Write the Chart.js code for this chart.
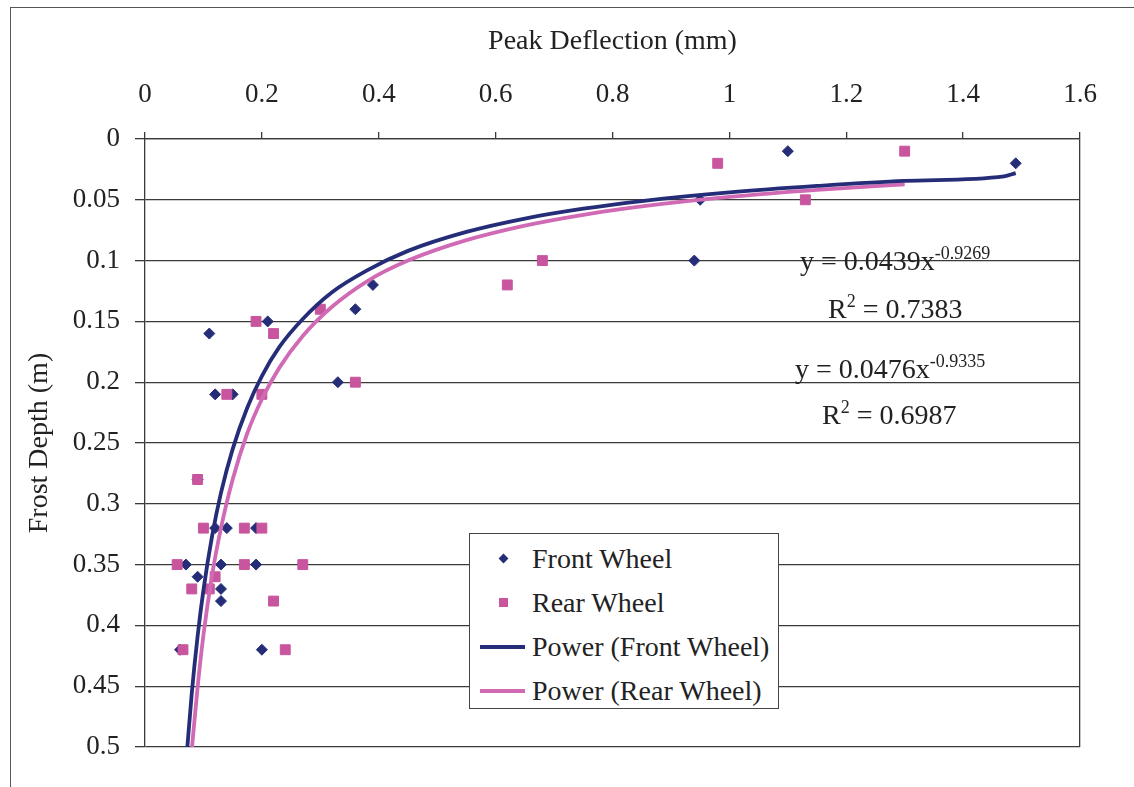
<!DOCTYPE html>
<html>
<head>
<meta charset="utf-8">
<title>Frost Depth vs Peak Deflection</title>
<script src="https://cdn.jsdelivr.net/npm/chart.js@4.4.1/dist/chart.umd.min.js"></script>
<style>
  body { margin: 0; background: #fff; }
  #wrap { position: relative; width: 1134px; height: 787px; overflow: hidden;
          font-family: "Liberation Serif", "Times New Roman", serif; color: #222; }
  #frame { position: absolute; left: 10px; top: 7px; width: 1200px; height: 900px;
           border-left: 1.5px solid #555; border-top: 1.5px solid #555; }
  #chart { position: absolute; left: 0; top: 0; }
  .eq { position: absolute; font-size: 28px; line-height: 1; white-space: nowrap; }
  .eq sup { font-size: 18px; line-height: 0; vertical-align: 11px; }
  #legend { position: absolute; left: 469px; top: 533px; width: 310px; height: 176px;
            box-sizing: border-box; border: 1px solid #444; background: #fff; padding-top: 3px; }
  .row { position: relative; height: 44px; font-size: 28px; }
  .row span.txt { position: absolute; left: 62px; top: 50%; transform: translateY(-50%); white-space: nowrap; }
  .mk { position: absolute; }
</style>
</head>
<body>
<div id="wrap">
  <div id="frame"></div>
  <canvas id="chart" width="1134" height="787"></canvas>
  <div class="eq" style="left:800px; top:247px;">y = 0.0439x<sup>-0.9269</sup></div>
  <div class="eq" style="left:828px; top:295px;">R<sup>2</sup> = 0.7383</div>
  <div class="eq" style="left:795px; top:355px;">y = 0.0476x<sup>-0.9335</sup></div>
  <div class="eq" style="left:822px; top:401px;">R<sup>2</sup> = 0.6987</div>
  <div id="legend"></div>
</div>
<script>
// peak deflection (mm) / frost depth (m)
const frontDeflection = [1.49, 1.10, 0.95, 0.94, 0.39, 0.36, 0.33, 0.21, 0.11, 0.12, 0.15, 0.09,
  0.12, 0.14, 0.19, 0.07, 0.13, 0.19, 0.09, 0.13, 0.13, 0.06, 0.20];
const frontDepth = [0.02, 0.01, 0.05, 0.10, 0.12, 0.14, 0.20, 0.15, 0.16, 0.21, 0.21, 0.28,
  0.32, 0.32, 0.32, 0.35, 0.35, 0.35, 0.36, 0.37, 0.38, 0.42, 0.42];

const rearDeflection = [0.98, 1.30, 1.13, 0.68, 0.62, 0.30, 0.19, 0.22, 0.36, 0.14, 0.20, 0.09,
  0.10, 0.17, 0.20, 0.055, 0.17, 0.27, 0.12, 0.08, 0.11, 0.22, 0.065, 0.24];
const rearDepth = [0.02, 0.01, 0.05, 0.10, 0.12, 0.14, 0.15, 0.16, 0.20, 0.21, 0.21, 0.28,
  0.32, 0.32, 0.32, 0.35, 0.35, 0.35, 0.36, 0.37, 0.37, 0.38, 0.42, 0.42];

// power trendlines as drawn
const frontFitX = [0.0725, 0.08, 0.09, 0.10, 0.115, 0.13, 0.15, 0.175, 0.20, 0.23, 0.27, 0.32,
  0.38, 0.45, 0.55, 0.65, 0.75, 0.85, 1.00, 1.15, 1.30, 1.47, 1.49];
const frontFitY = [0.500, 0.456, 0.409, 0.371, 0.326, 0.291, 0.255, 0.221, 0.195, 0.171, 0.148, 0.126,
  0.108, 0.092, 0.0764, 0.0654, 0.0573, 0.0510, 0.0439, 0.0386, 0.0344, 0.0307, 0.028];
const rearFitX = [0.0805, 0.09, 0.10, 0.115, 0.13, 0.15, 0.175, 0.20, 0.23, 0.27, 0.32, 0.38,
  0.45, 0.55, 0.65, 0.75, 0.85, 1.00, 1.15, 1.30];
const rearFitY = [0.500, 0.451, 0.408, 0.358, 0.320, 0.280, 0.242, 0.214, 0.188, 0.162, 0.138, 0.117,
  0.100, 0.0832, 0.0712, 0.0623, 0.0554, 0.0476, 0.0418, 0.0373];

const xTicks = [0, 0.2, 0.4, 0.6, 0.8, 1, 1.2, 1.4, 1.6];
const yTicks = [0, 0.05, 0.1, 0.15, 0.2, 0.25, 0.3, 0.35, 0.4, 0.45, 0.5];

const navy = '#262d78';
const pink = '#c8559e';
const pinkLine = '#d06ab5';
const ink = '#222';
const gridInk = '#3a3a3a';

const pts = (xs, ys) => xs.map((x, i) => ({ x, y: ys[i] }));

Chart.defaults.font.family = '"Liberation Serif", "Times New Roman", serif';
Chart.defaults.color = ink;

const chart = new Chart(document.getElementById('chart'), {
  type: 'scatter',
  data: {
    datasets: [
      { label: 'Front Wheel', data: pts(frontDeflection, frontDepth), pointStyle: 'rectRot',
        pointRadius: 5.5, backgroundColor: navy, borderColor: navy, borderWidth: 1, order: 2 },
      { label: 'Rear Wheel', data: pts(rearDeflection, rearDepth), pointStyle: 'rect',
        pointRadius: 7, backgroundColor: pink, borderColor: pink, borderWidth: 1, order: 1 },
      { label: 'Power (Front Wheel)', data: pts(frontFitX, frontFitY), showLine: true, pointRadius: 0,
        borderColor: navy, borderWidth: 3.8, cubicInterpolationMode: 'monotone', order: 0 },
      { label: 'Power (Rear Wheel)', data: pts(rearFitX, rearFitY), showLine: true, pointRadius: 0,
        borderColor: pinkLine, borderWidth: 3.8, cubicInterpolationMode: 'monotone', order: 0 }
    ]
  },
  options: {
    responsive: false,
    animation: false,
    devicePixelRatio: 1,
    layout: { padding: { top: 0, left: 0, right: 54, bottom: 40 } },
    plugins: { legend: { display: false }, tooltip: { enabled: false } },
    scales: {
      x: {
        type: 'linear', position: 'top', min: 0, max: 1.6,
        afterBuildTicks: s => { s.ticks = xTicks.map(v => ({ value: v })); },
        afterFit: s => { s.height = 139; },
        ticks: { callback: v => String(v), padding: 21, font: { size: 27 }, color: ink, maxRotation: 0, autoSkip: false },
        grid: {
          color: c => (c.tick && c.tick.value === 1.6 ? gridInk : 'rgba(0,0,0,0)'),
          tickColor: gridInk, tickLength: 7, lineWidth: 1.3
        },
        border: { display: true, color: gridInk, width: 1.3 },
        title: { display: true, text: 'Peak Deflection (mm)', font: { size: 28 }, color: ink, padding: { top: 25, bottom: 0 } }
      },
      y: {
        type: 'linear', position: 'left', reverse: true, min: 0, max: 0.5,
        afterBuildTicks: s => { s.ticks = yTicks.map(v => ({ value: v })); },
        afterFit: s => { s.width = 145; },
        ticks: { callback: v => String(v), padding: 15, font: { size: 27 }, color: ink, autoSkip: false },
        grid: { color: gridInk, tickColor: gridInk, tickLength: 10, lineWidth: 1.3 },
        border: { display: true, color: gridInk, width: 1.3 },
        title: { display: true, text: 'Frost Depth (m)', font: { size: 28 }, color: ink, padding: { top: 23, bottom: 0 } }
      }
    }
  }
});

// legend box placed inside the plot like the original
const legendEl = document.getElementById('legend');
chart.data.datasets.forEach(ds => {
  const row = document.createElement('div');
  row.className = 'row';
  const mk = document.createElement('span');
  mk.className = 'mk';
  if (ds.showLine) {
    Object.assign(mk.style, { left: '10px', top: '20px', width: '45px', height: '3.5px', background: ds.borderColor });
  } else if (ds.pointStyle === 'rectRot') {
    Object.assign(mk.style, { left: '30px', top: '18px', width: '7px', height: '7px', background: ds.backgroundColor, transform: 'rotate(45deg)' });
  } else {
    Object.assign(mk.style, { left: '29px', top: '17px', width: '9px', height: '9px', background: ds.backgroundColor });
  }
  const txt = document.createElement('span');
  txt.className = 'txt';
  txt.textContent = ds.label;
  row.appendChild(mk);
  row.appendChild(txt);
  legendEl.appendChild(row);
});
</script>
</body>
</html>
